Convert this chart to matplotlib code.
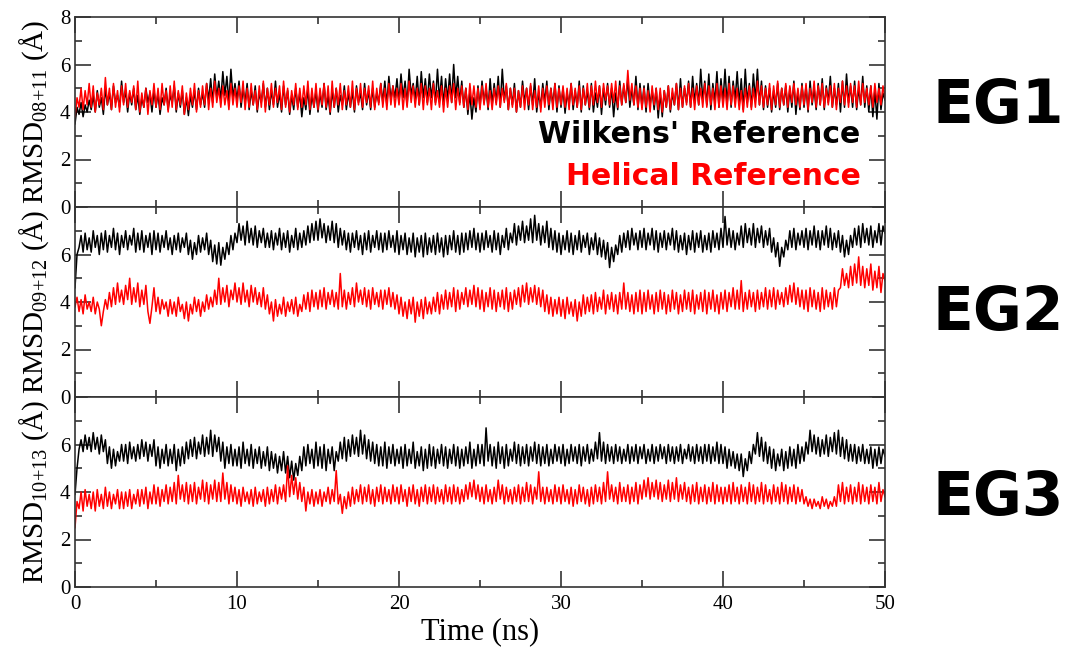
import matplotlib as mpl
mpl.use('Agg')
from matplotlib import pyplot as plt
from matplotlib.ticker import MultipleLocator
import numpy as np

mpl.rcParams['font.family'] = 'Liberation Serif'
mpl.rcParams['mathtext.fontset'] = 'custom'
mpl.rcParams['mathtext.rm'] = 'Liberation Serif'
mpl.rcParams['mathtext.it'] = 'Liberation Serif:italic'

# time axis: one sample every 0.125 ns, 0..50 ns
time_ns = np.arange(401) * 0.125

# EG1 (RMSD 08+11), rows of 5 ns
eg1_wilkens = [
    3.5,4.2,3.9,4.4,3.8,4.3,4.0,4.5, 4.1,4.7,4.0,4.9,4.2,4.6,3.9,5.0, 4.3,4.8,4.1,5.1,4.4,4.7,4.2,5.3, 4.4,4.9,4.0,4.8,4.3,5.0,4.1,4.7, 3.9,4.6,4.2,5.0,4.4,4.8,4.0,4.9,
    4.2,4.8,3.9,4.6,4.3,5.0,4.1,4.7, 4.4,5.1,4.0,4.8,4.2,4.9,3.9,4.6, 3.85,4.7,4.2,4.9,4.1,5.0,4.3,4.8, 4.2,5.2,4.5,5.4,4.4,5.6,4.6,5.3, 4.5,5.7,4.7,5.5,4.4,5.8,4.6,5.2,
    4.5,5.3,4.2,5.0,4.4,5.2,4.1,4.9, 4.3,5.1,4.0,4.8,4.4,5.2,4.2,5.0, 4.1,4.9,4.3,5.3,4.2,4.8,4.0,5.1, 4.3,4.9,3.9,4.7,4.1,5.0,4.2,4.8, 3.8,4.6,4.1,5.0,3.9,4.7,4.2,4.9,
    4.0,4.8,4.2,5.2,4.1,4.7,3.9,4.9, 4.2,5.0,4.0,4.7,4.3,5.1,4.1,4.8, 4.2,4.9,4.0,5.1,4.4,4.8,4.1,5.2, 4.3,4.9,4.1,5.0,4.2,4.8,4.4,5.2, 4.4,5.3,4.3,5.5,4.5,5.1,4.6,5.4,
    4.4,5.6,4.6,5.3,4.3,5.8,4.7,5.2, 4.5,5.5,4.3,5.7,4.6,5.4,4.4,5.6, 4.6,5.3,4.4,5.8,4.5,5.5,4.3,5.4, 4.5,5.6,4.4,6.0,4.6,5.5,4.4,5.3, 4.2,5.0,3.9,4.8,3.7,4.6,4.0,5.1,
    4.2,5.3,4.4,5.0,4.1,5.4,4.3,5.2, 4.4,5.5,4.2,5.8,4.5,5.1,4.1,5.0, 4.3,5.2,4.0,4.9,4.2,5.3,4.4,5.0, 4.1,5.1,4.3,5.4,4.0,4.8,4.2,5.2, 4.4,5.3,4.1,5.0,4.3,5.2,4.0,5.1,
    4.2,5.0,3.95,4.8,4.3,5.2,4.1,4.9, 4.2,5.3,4.0,5.1,4.3,4.9,4.1,5.2, 4.0,4.8,4.2,5.1,3.9,5.0,4.3,5.2, 4.2,5.0,3.8,4.8,4.1,5.3,4.3,5.1, 4.4,5.4,4.2,5.0,4.3,5.5,4.1,5.2,
    4.2,5.1,4.0,5.2,4.3,4.9,4.1,5.0, 3.75,4.8,3.8,4.9,4.2,5.1,4.0,4.8, 4.3,5.2,4.1,5.4,4.2,5.0,4.4,5.3, 4.2,5.5,4.4,5.2,4.3,5.8,4.5,5.3, 4.3,5.6,4.1,5.2,4.4,5.7,4.2,5.4,
    4.4,5.8,4.3,5.5,4.2,5.3,4.5,5.7, 4.3,5.4,4.1,5.8,4.4,5.2,4.2,5.6, 4.5,5.8,4.3,5.3,4.1,5.1,4.2,5.0, 4.0,4.9,4.2,5.2,4.1,5.0,4.3,5.1, 4.0,5.0,4.2,5.3,3.9,4.9,4.1,5.2,
    4.2,5.1,4.0,5.3,4.3,5.0,4.1,5.2, 4.3,5.4,4.1,5.1,4.4,5.5,4.2,5.0, 4.3,5.2,4.0,5.3,4.2,5.6,4.4,5.1, 4.2,5.3,4.1,5.0,4.3,5.5,4.2,5.1, 4.0,5.1,3.8,4.9,3.7,5.2,4.1,4.8,
    4.5]
eg1_helical = [
    3.8,4.6,4.2,5.0,4.1,4.9,4.3,5.2, 4.2,5.1,4.0,4.8,4.3,5.0,4.1,5.45, 4.3,5.0,4.1,5.2,4.2,4.9,4.0,5.1, 4.3,5.2,4.2,4.9,4.4,5.1,4.1,5.3, 4.0,4.8,4.2,5.0,3.9,4.9,4.3,5.2,
    4.2,5.0,4.1,5.2,4.3,4.9,4.0,5.1, 4.2,5.3,4.1,4.9,4.3,5.1,3.9,4.8, 4.1,5.0,4.3,5.2,4.0,4.9,4.2,5.1, 4.3,5.2,4.1,5.0,4.2,5.3,4.4,5.0, 4.2,5.1,4.3,4.9,4.1,5.2,4.3,5.0,
    4.2,5.1,4.4,5.3,4.1,5.0,4.2,5.2, 4.3,4.9,4.1,5.1,4.2,5.3,4.0,5.0, 4.3,5.2,4.2,5.0,4.4,5.1,4.1,5.3, 4.2,5.0,4.0,4.9,4.3,5.2,4.1,5.0, 4.2,5.1,4.3,5.3,4.1,5.0,4.2,5.2,
    4.1,5.0,4.3,5.2,4.2,5.1,4.0,5.3, 4.2,5.0,4.3,5.2,4.1,4.9,4.3,5.1, 4.2,5.3,4.1,5.0,4.3,5.2,4.2,5.0, 4.4,5.1,4.2,5.3,4.1,5.0,4.3,5.2, 4.2,5.0,4.1,5.2,4.3,5.1,4.2,5.0,
    4.3,5.2,4.1,5.0,4.2,5.3,4.4,5.1, 4.2,5.0,4.3,5.2,4.1,5.1,4.3,5.0, 4.1,5.2,4.3,4.9,4.2,5.1,4.0,5.0, 4.2,5.1,4.4,5.2,4.1,5.0,4.3,5.1, 4.2,5.0,4.1,5.2,4.3,5.1,4.2,5.0,
    4.1,5.1,4.3,5.2,4.2,4.9,4.1,5.0, 4.3,5.1,4.2,5.0,4.4,5.2,4.1,5.0, 4.2,5.0,4.0,4.9,4.2,5.1,4.1,5.0, 4.3,5.2,4.1,4.9,4.2,5.1,4.0,5.0, 4.2,5.1,4.3,5.0,4.1,5.2,4.2,5.0,
    4.3,5.1,4.2,5.0,4.1,5.2,4.3,5.0, 4.2,5.1,4.1,5.0,4.3,5.2,4.2,5.1, 4.3,5.3,4.4,5.1,4.2,5.2,4.5,5.1, 4.3,5.2,4.4,5.3,4.2,5.1,4.3,5.2, 4.4,5.75,4.5,5.2,4.3,5.1,4.2,5.0,
    4.1,5.0,4.2,4.9,4.0,5.1,4.3,5.0, 4.1,5.0,4.0,4.9,4.2,5.1,4.1,5.0, 4.3,5.2,4.1,5.0,4.2,5.1,4.3,5.2, 4.2,5.0,4.1,5.1,4.3,5.0,4.2,5.2, 4.2,5.1,4.3,5.0,4.1,5.2,4.2,5.1,
    4.2,5.0,4.1,5.2,4.3,5.1,4.2,5.0, 4.1,4.9,4.0,5.0,4.2,5.1,4.1,5.0, 4.2,5.3,4.3,5.1,4.2,5.0,4.3,5.2, 4.1,5.1,4.3,5.3,4.2,5.0,4.3,5.2, 4.2,5.1,4.4,5.2,4.3,5.0,4.2,5.1,
    4.3,5.2,4.1,5.0,4.4,5.3,4.2,5.1, 4.3,5.2,4.2,5.0,4.3,5.1,4.2,5.2, 4.1,5.0,4.4,5.3,4.3,5.1,4.2,5.2, 4.4,5.1,4.2,5.3,4.3,5.2,4.4,5.0, 4.3,5.1,4.2,5.2,4.4,5.0,4.3,5.1,
    4.6]

# EG2 (RMSD 09+12)
eg2_wilkens = [
    4.6,6.0,6.3,6.8,6.1,6.9,6.2,6.7, 6.1,7.0,6.3,6.8,6.0,6.9,6.2,7.0, 6.1,6.8,6.3,7.1,6.2,6.9,6.0,6.8, 6.3,7.0,6.2,6.8,6.4,7.1,6.1,6.9, 6.2,7.0,6.1,6.8,6.3,6.9,6.0,7.0,
    6.2,6.9,6.1,6.8,6.3,7.0,6.2,6.7, 6.0,6.8,6.2,6.9,6.1,6.7,6.3,6.9, 6.0,6.6,5.8,6.5,6.0,6.8,6.1,6.7, 6.2,6.9,6.0,6.6,5.7,6.4,5.6,6.5, 5.55,6.3,5.8,6.5,6.0,6.8,6.2,6.9,
    6.5,7.3,6.6,7.2,6.4,7.4,6.5,7.1, 6.4,7.2,6.3,7.0,6.5,7.1,6.3,6.9, 6.3,7.0,6.2,6.9,6.4,7.1,6.2,6.9, 6.3,7.0,6.1,6.8,6.3,7.1,6.2,6.9, 6.3,7.0,6.4,7.2,6.5,7.3,6.6,7.4,
    6.6,7.5,6.7,7.3,6.5,7.2,6.6,7.4, 6.5,7.3,6.3,7.1,6.4,7.0,6.2,6.9, 6.1,6.9,6.3,7.0,6.2,6.8,6.0,6.9, 6.2,7.0,6.1,6.8,6.3,7.0,6.2,6.9, 6.1,6.9,6.2,7.0,6.3,6.8,6.1,7.0,
    6.0,6.8,6.2,6.9,6.0,6.7,6.1,6.9, 5.9,6.7,6.1,6.8,5.9,6.9,6.0,6.7, 6.1,6.8,6.0,6.9,6.1,6.7,5.9,6.8, 6.0,6.8,6.2,7.0,6.1,6.8,6.0,6.9, 6.1,6.9,6.2,7.0,6.3,7.1,6.2,6.9,
    6.1,6.9,6.2,7.0,6.3,6.8,6.1,7.0, 6.2,6.9,6.0,6.8,6.3,7.1,6.2,6.9, 6.5,7.3,6.4,7.2,6.6,7.4,6.5,7.2, 6.6,7.5,6.5,7.65,6.6,7.3,6.4,7.2, 6.5,7.4,6.3,7.1,6.2,7.0,6.1,6.9,
    6.0,6.8,6.2,7.0,6.1,6.9,6.0,6.8, 6.2,7.0,6.1,6.8,6.3,6.9,6.0,6.7, 6.2,6.9,6.0,6.7,5.9,6.6,5.8,6.5, 5.45,6.3,5.7,6.4,6.0,6.8,6.1,6.9, 6.3,7.0,6.2,7.1,6.4,6.9,6.2,7.0,
    6.3,7.1,6.2,6.9,6.4,7.1,6.2,7.0, 6.1,6.9,6.3,7.0,6.2,6.9,6.4,7.1, 6.2,7.0,6.1,6.8,6.2,6.9,6.0,6.8, 6.2,7.0,6.1,6.9,6.3,7.0,6.1,6.8, 6.2,6.9,6.1,7.0,6.3,6.9,6.2,7.1,
    6.3,7.6,6.4,7.1,6.3,7.0,6.2,6.9, 6.4,7.2,6.3,7.3,6.5,7.1,6.4,7.3, 6.3,7.1,6.5,7.2,6.3,7.0,6.4,7.1, 6.1,6.7,5.9,6.5,5.5,6.3,5.9,6.6, 6.2,7.0,6.3,7.1,6.2,6.9,6.4,7.0,
    6.3,7.1,6.2,7.0,6.4,7.2,6.3,7.0, 6.2,7.0,6.4,7.2,6.3,7.1,6.2,6.9, 6.3,7.0,6.1,6.8,5.9,6.6,6.0,6.8, 6.3,7.1,6.4,7.2,6.3,7.3,6.5,7.1, 6.4,7.2,6.3,7.0,6.5,7.3,6.4,7.2,
    6.9]
eg2_helical = [
    3.8,4.2,3.6,4.1,3.5,4.3,3.7,4.0, 3.6,4.2,3.5,4.0,3.7,3.0,3.6,4.1, 3.7,4.4,3.8,4.6,3.9,4.8,4.0,4.5, 3.9,4.7,4.1,5.0,3.9,4.6,4.0,4.8, 3.8,4.5,3.9,4.7,3.6,3.1,3.8,4.6,
    3.6,4.2,3.5,4.1,3.7,4.0,3.4,4.1, 3.5,4.0,3.4,4.2,3.6,3.9,3.3,4.0, 3.2,3.9,3.5,4.2,3.6,4.1,3.4,4.0, 3.6,4.3,3.7,4.2,3.8,4.5,3.9,5.0, 3.9,4.6,4.0,4.7,3.8,4.5,4.1,4.8,
    4.0,4.6,3.9,4.8,4.0,4.5,3.8,4.7, 4.0,4.6,3.9,4.4,3.8,4.6,3.7,4.3, 3.5,4.0,3.2,4.1,3.4,3.9,3.5,4.2, 3.4,4.0,3.6,4.1,3.5,4.2,3.4,3.9, 3.6,4.3,3.7,4.4,3.6,4.5,3.8,4.4,
    3.7,4.5,3.8,4.6,3.7,4.4,3.9,4.5, 3.8,4.4,3.7,5.2,3.8,4.5,3.7,4.4, 3.9,4.6,3.8,4.8,4.0,4.5,3.9,4.6, 3.8,4.5,3.7,4.6,3.9,4.4,3.8,4.5, 3.7,4.5,3.9,4.6,3.8,4.4,3.7,4.3,
    3.5,4.2,3.4,4.0,3.3,4.1,3.5,4.2, 3.15,4.0,3.4,4.1,3.3,4.2,3.5,4.0, 3.5,4.2,3.6,4.4,3.5,4.3,3.7,4.5, 3.7,4.4,3.8,4.6,3.6,4.5,3.7,4.4, 3.9,4.6,3.8,4.5,3.9,4.7,3.8,4.6,
    3.7,4.5,3.6,4.4,3.8,4.6,3.7,4.5, 3.6,4.4,3.8,4.5,3.7,4.6,3.6,4.4, 3.7,4.5,3.9,4.6,3.8,4.7,4.0,4.8, 3.9,4.6,4.0,4.7,3.9,4.6,3.8,4.5, 3.6,4.3,3.5,4.2,3.4,4.1,3.5,4.2,
    3.4,4.1,3.3,4.2,3.5,4.0,3.4,4.1, 3.2,4.0,3.4,4.3,3.5,4.2,3.6,4.3, 3.5,4.4,3.6,4.2,3.7,4.5,3.5,4.3, 3.7,4.4,3.6,4.3,3.5,4.4,3.7,4.8, 3.7,4.4,3.6,4.3,3.5,4.4,3.6,4.5,
    3.5,4.4,3.6,4.5,3.7,4.3,3.5,4.4, 3.6,4.5,3.7,4.4,3.5,4.3,3.6,4.5, 3.7,4.4,3.5,4.3,3.6,4.5,3.7,4.4, 3.6,4.5,3.5,4.3,3.7,4.4,3.6,4.5, 3.5,4.4,3.7,4.5,3.6,4.3,3.5,4.4,
    3.7,4.5,3.6,4.4,3.8,4.6,3.7,4.5, 3.7,4.9,3.6,4.4,3.7,4.5,3.8,4.4, 3.6,4.5,3.7,4.4,3.8,4.6,3.7,4.5, 3.8,4.6,3.7,4.5,3.9,4.4,3.8,4.6, 3.9,4.7,4.0,4.8,3.9,4.6,3.8,4.5,
    3.7,4.5,3.6,4.6,3.8,4.5,3.7,4.4, 3.6,4.6,3.7,4.5,3.8,4.4,3.7,4.6, 3.8,4.5,4.6,5.4,4.7,5.2,4.6,5.5, 4.7,5.6,4.8,5.9,4.7,5.5,4.6,5.4, 4.7,5.6,4.5,5.3,4.6,5.5,4.4,5.2,
    4.9]

# EG3 (RMSD 10+13)
eg3_wilkens = [
    3.9,5.0,5.8,6.2,5.7,6.4,5.8,6.3, 5.7,6.5,5.8,6.3,5.6,6.4,5.7,6.2, 5.2,5.9,5.0,5.8,5.1,5.7,5.3,6.0, 5.3,6.0,5.2,6.1,5.4,5.9,5.3,6.0, 5.4,6.2,5.5,6.1,5.3,6.0,5.5,6.2,
    5.1,5.9,5.0,5.8,5.2,6.0,5.1,5.8, 5.2,6.0,4.9,5.8,5.1,5.9,5.2,6.1, 5.4,6.2,5.5,6.3,5.4,6.1,5.6,6.4, 5.5,6.3,5.6,6.6,5.5,6.4,5.7,6.3, 5.3,6.1,5.0,5.9,5.2,6.0,5.1,5.8,
    5.1,5.9,5.0,6.1,5.2,5.8,5.1,6.0, 5.0,5.8,5.2,5.9,5.0,5.7,5.1,5.9, 4.9,5.7,5.0,5.6,4.8,5.5,4.9,5.7, 4.8,5.5,4.6,5.3,4.5,5.2,4.7,5.5, 4.9,5.9,5.1,6.0,5.2,5.8,5.0,6.1,
    5.1,5.9,5.0,6.0,4.9,5.8,5.2,5.9, 4.9,5.7,5.3,6.1,5.4,6.3,5.3,6.2, 5.5,6.4,5.6,6.3,5.5,6.6,5.6,6.4, 5.4,6.2,5.3,6.1,5.2,6.0,5.1,5.9, 5.1,6.1,5.0,5.9,5.2,6.0,5.1,5.8,
    5.2,5.9,5.0,6.0,5.1,5.8,5.2,6.1, 5.0,5.7,5.1,5.9,4.9,5.8,5.0,6.0, 5.1,5.9,5.0,5.8,5.2,6.0,5.1,5.9, 5.0,5.8,5.2,6.0,5.1,5.9,5.0,5.8, 5.1,5.9,5.2,6.1,5.0,5.8,5.1,6.0,
    5.2,6.0,5.1,6.7,5.3,6.0,5.1,5.9, 5.0,6.1,5.2,5.9,5.0,6.0,5.1,5.8, 5.3,6.1,5.2,6.0,5.1,5.9,5.2,6.0, 5.1,5.9,5.3,6.1,5.2,6.0,5.1,5.9, 5.2,6.0,5.1,5.8,5.2,6.0,5.3,5.9,
    5.2,6.0,5.1,5.8,5.2,6.0,5.3,5.9, 5.2,6.0,5.1,5.9,5.3,6.0,5.2,5.8, 5.3,6.1,5.4,6.5,5.3,6.1,5.2,6.0, 5.3,5.9,5.2,6.0,5.3,5.9,5.2,5.8, 5.3,6.0,5.2,5.9,5.3,6.0,5.2,5.9,
    5.4,6.0,5.2,5.8,5.3,6.0,5.2,5.9, 5.3,6.0,5.4,5.9,5.2,6.0,5.3,5.9, 5.2,5.9,5.3,6.0,5.2,5.8,5.4,6.0, 5.3,5.9,5.2,6.0,5.3,5.9,5.2,6.0, 5.3,6.0,5.2,5.9,5.3,6.1,5.2,6.0,
    5.2,5.9,5.0,5.8,5.1,5.7,5.0,5.6, 4.9,5.6,4.65,5.4,4.9,5.7,5.2,6.0, 5.6,6.5,5.5,6.3,5.3,6.1,5.2,5.9, 5.0,5.8,4.9,5.6,5.1,5.8,4.9,5.7, 5.0,5.9,5.1,5.8,5.0,6.0,5.2,5.9,
    5.3,6.1,5.6,6.6,5.7,6.4,5.6,6.3, 5.5,6.2,5.6,6.4,5.5,6.3,5.7,6.5, 5.6,6.6,5.5,6.3,5.4,6.2,5.3,6.0, 5.3,6.0,5.2,5.9,5.3,6.0,5.2,5.8, 5.2,5.9,5.0,5.8,5.1,5.9,5.2,5.8,
    5.5]
eg3_helical = [
    2.5,3.6,3.3,4.0,3.2,4.1,3.4,3.9, 3.3,4.0,3.2,4.1,3.4,3.9,3.3,4.2, 3.4,4.0,3.3,3.9,3.5,4.1,3.3,4.0, 3.3,4.0,3.4,4.1,3.3,3.9,3.5,4.1, 3.4,4.1,3.5,4.2,3.3,4.0,3.5,4.3,
    3.5,4.2,3.4,4.1,3.6,4.3,3.5,4.2, 3.6,4.4,3.5,4.7,3.7,4.3,3.6,4.4, 3.5,4.3,3.6,4.4,3.5,4.2,3.7,4.5, 3.6,4.4,3.5,4.3,3.7,4.5,3.6,4.4, 3.6,4.8,3.7,4.4,3.5,4.3,3.6,4.2,
    3.5,4.1,3.4,4.2,3.6,4.0,3.5,4.1, 3.4,4.2,3.5,4.0,3.6,4.1,3.4,4.2, 3.5,4.1,3.6,4.3,3.5,4.2,3.7,4.3, 3.6,5.1,3.8,4.7,3.9,4.6,3.7,4.4, 3.6,4.2,3.2,4.0,3.5,4.1,3.4,4.0,
    3.5,4.1,3.4,4.0,3.6,4.2,3.5,4.1, 3.6,4.9,3.5,3.9,3.1,3.8,3.3,4.0, 3.4,4.2,3.5,4.1,3.6,4.3,3.5,4.2, 3.6,4.3,3.5,4.1,3.4,4.2,3.6,4.3, 3.5,4.2,3.6,4.1,3.5,4.3,3.6,4.2,
    3.5,4.3,3.6,4.1,3.4,4.2,3.6,4.3, 3.5,4.1,3.4,4.2,3.6,4.3,3.5,4.2, 3.6,4.3,3.5,4.2,3.6,4.1,3.5,4.3, 3.6,4.2,3.5,4.3,3.6,4.2,3.5,4.1, 3.6,4.3,3.7,4.4,3.8,4.5,3.7,4.3,
    3.6,4.2,3.5,4.3,3.6,4.1,3.5,4.2, 3.6,4.5,3.7,4.3,3.5,4.2,3.6,4.1, 3.5,4.2,3.6,4.3,3.5,4.2,3.6,4.4, 3.6,4.3,3.5,4.2,3.7,4.85,3.6,4.2, 3.5,4.2,3.6,4.1,3.5,4.3,3.6,4.2,
    3.5,4.3,3.6,4.1,3.5,4.2,3.4,4.1, 3.5,4.3,3.6,4.2,3.5,4.1,3.4,4.2, 3.5,4.3,3.6,4.2,3.5,4.4,3.6,4.85, 3.7,4.3,3.6,4.2,3.5,4.4,3.6,4.2, 3.6,4.3,3.5,4.2,3.6,4.4,3.5,4.3,
    3.7,4.5,3.8,4.6,3.7,4.4,3.8,4.5, 3.7,4.4,3.6,4.3,3.7,4.5,3.6,4.4, 3.7,4.6,3.6,4.3,3.7,4.4,3.6,4.2, 3.5,4.3,3.6,4.4,3.5,4.2,3.6,4.3, 3.5,4.2,3.6,4.4,3.5,4.3,3.6,4.2,
    3.5,4.2,3.6,4.3,3.5,4.4,3.6,4.2, 3.5,4.3,3.6,4.2,3.5,4.4,3.6,4.3, 3.5,4.2,3.6,4.4,3.5,4.3,3.6,4.1, 3.5,4.3,3.6,4.2,3.5,4.4,3.6,4.3, 3.5,4.2,3.6,4.3,3.5,4.2,3.6,4.1,
    3.5,3.8,3.4,3.7,3.3,3.7,3.4,3.6, 3.3,3.8,3.4,3.7,3.3,3.6,3.4,3.8, 3.4,4.3,3.6,4.4,3.5,4.2,3.6,4.3, 3.5,4.2,3.6,4.4,3.5,4.3,3.6,4.2, 3.5,4.3,3.6,4.2,3.5,4.4,3.6,4.1,
    3.8]

panels = [
    ('EG1', 'RMSD$_{\\mathrm{08{+}11}}$ (Å)', eg1_wilkens, eg1_helical),
    ('EG2', 'RMSD$_{\\mathrm{09{+}12}}$ (Å)', eg2_wilkens, eg2_helical),
    ('EG3', 'RMSD$_{\\mathrm{10{+}13}}$ (Å)', eg3_wilkens, eg3_helical),
]

W, H = 1067, 647
fig = plt.figure(figsize=(W / 100, H / 100), dpi=100)

left, right = 75, 885
tops = [17, 207, 397]
ph = 190
eg_shift = [-5, 11, 6]

axes = []
for i, (name, ylab, wil, hel) in enumerate(panels):
    top = tops[i]
    ax = fig.add_axes([left / W, 1 - (top + ph) / H, (right - left) / W, ph / H])
    ax.plot(time_ns, wil, color='black', linewidth=1.1)
    ax.plot(time_ns, hel, color='red', linewidth=1.1)
    ax.set_xlim(0, 50)
    ax.set_ylim(0, 8)
    ax.xaxis.set_major_locator(MultipleLocator(10))
    ax.xaxis.set_minor_locator(MultipleLocator(5))
    ax.yaxis.set_major_locator(MultipleLocator(2))
    ax.yaxis.set_minor_locator(MultipleLocator(1))
    ax.tick_params(which='both', direction='in', top=True, right=True,
                   color='#333333', width=1.2, labelsize=15)
    ax.tick_params(which='major', length=11.5)
    ax.tick_params(which='minor', length=5)
    for sp in ax.spines.values():
        sp.set_color('#333333')
        sp.set_linewidth(1.2)
    ax.set_ylabel(ylab, fontsize=21, labelpad=6)
    if i < 2:
        ax.tick_params(labelbottom=False)
    if i > 0:
        # no "8" label where the panels meet
        ax.set_yticks([0, 2, 4, 6])
        ax.set_yticks([1, 3, 5, 7], minor=True)
        ax.plot([0, 0.0143], [1, 1], transform=ax.transAxes, color='#333333',
                linewidth=1.2, clip_on=False)
        ax.plot([0.9857, 1], [1, 1], transform=ax.transAxes, color='#333333',
                linewidth=1.2, clip_on=False)
    fig.text(933 / W, 1 - (top + ph / 2 + eg_shift[i]) / H, name,
             fontsize=43, fontweight='bold', family='DejaVu Sans',
             ha='left', va='center')
    axes.append(ax)

axes[-1].set_xlabel('Time (ns)', fontsize=22, labelpad=2)
axes[-1].tick_params(axis='x', pad=6)

axes[0].text(0.97, 0.38, "Wilkens' Reference", transform=axes[0].transAxes,
             ha='right', va='center', fontsize=21.5, fontweight='bold',
             family='DejaVu Sans', color='black')
axes[0].text(0.97, 0.16, 'Helical Reference', transform=axes[0].transAxes,
             ha='right', va='center', fontsize=21.5, fontweight='bold',
             family='DejaVu Sans', color='red')

fig.savefig('out.png', dpi=100)
